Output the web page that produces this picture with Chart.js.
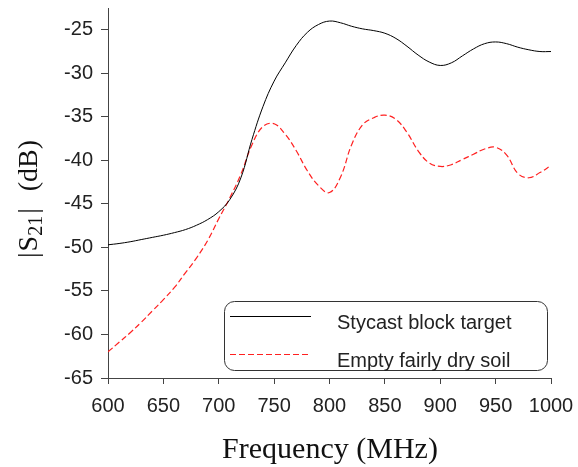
<!DOCTYPE html>
<html>
<head>
<meta charset="utf-8">
<script src="https://cdn.jsdelivr.net/npm/chart.js@4/dist/chart.umd.min.js"></script>
<style>
  html, body { margin: 0; padding: 0; background: #fff; }
  #wrap { width: 578px; height: 467px; position: relative; }
</style>
</head>
<body>
<div id="wrap"><canvas id="chart"></canvas></div>
<script>
const freqs = [600, 610, 620, 630, 640, 650, 660, 670, 680, 690,
  700, 710, 720, 730, 740, 750, 760, 770, 780, 790,
  800, 810, 820, 830, 840, 850, 860, 870, 880, 890,
  900, 910, 920, 930, 940, 950, 960, 970, 980, 990, 1000];

const stycastBlock = [-49.7, -49.55, -49.35, -49.1, -48.85, -48.6, -48.3, -47.95, -47.45, -46.8,
  -45.9, -44.5, -42.0, -37.6, -33.8, -30.9, -28.8, -26.8, -25.3, -24.4,
  -24.0, -24.2, -24.6, -24.9, -25.1, -25.4, -26.0, -26.9, -27.9, -28.7,
  -29.1, -28.8, -28.0, -27.2, -26.6, -26.4, -26.6, -27.0, -27.3, -27.5, -27.5];

const emptySoil = [-62.0, -60.9, -59.8, -58.6, -57.3, -56.0, -54.6, -52.9, -51.2, -49.2,
  -46.7, -44.3, -41.6, -38.2, -36.1, -35.8, -37.0, -38.9, -41.2, -42.9,
  -43.7, -41.9, -38.2, -35.9, -35.1, -34.8, -35.3, -36.8, -38.9, -40.3,
  -40.7, -40.5, -39.9, -39.3, -38.7, -38.5, -39.4, -41.5, -42.0, -41.4, -40.6];

const seriesNames = ['Stycast block target', 'Empty fairly dry soil'];
const xTicks = [600, 650, 700, 750, 800, 850, 900, 950, 1000];
const yTicks = [-65, -60, -55, -50, -45, -40, -35, -30, -25];

const toPoints = ys => freqs.map((f, i) => ({ x: f, y: ys[i] }));

// legend box + axis titles drawn by hand (subscript in |S21|)
const extras = {
  id: 'extras',
  afterDraw(chart) {
    const ctx = chart.ctx;
    const a = chart.chartArea;
    ctx.save();

    // legend
    const bx = a.right - 327, by = a.bottom - 77, bw = 323, bh = 69;
    ctx.strokeStyle = '#333';
    ctx.lineWidth = 1;
    ctx.beginPath();
    ctx.roundRect(bx + 0.5, by + 0.5, bw, bh, 10);
    ctx.stroke();

    ctx.beginPath();
    ctx.strokeStyle = '#000';
    ctx.moveTo(bx + 6, by + 15.5);
    ctx.lineTo(bx + 87, by + 15.5);
    ctx.stroke();

    ctx.beginPath();
    ctx.strokeStyle = '#ff2020';
    ctx.setLineDash([6, 3]);
    ctx.moveTo(bx + 6, by + 53.5);
    ctx.lineTo(bx + 87, by + 53.5);
    ctx.stroke();
    ctx.setLineDash([]);

    ctx.fillStyle = '#222';
    ctx.font = '20px "Liberation Sans", Arial, sans-serif';
    ctx.textBaseline = 'alphabetic';
    ctx.textAlign = 'left';
    ctx.fillText(seriesNames[0], bx + 113, by + 28);
    ctx.fillText(seriesNames[1], bx + 113, by + 66);

    // x title
    ctx.fillStyle = '#111';
    ctx.font = '30px "Liberation Serif", "Times New Roman", serif';
    ctx.textAlign = 'center';
    ctx.fillText('Frequency (MHz)', 330, 458);

    // y title, rotated, with subscript; local x = -screen y
    ctx.translate(37, 0);
    ctx.rotate(-Math.PI / 2);
    const big = '28px "Liberation Serif", "Times New Roman", serif';
    const small = '20px "Liberation Serif", "Times New Roman", serif';
    ctx.textAlign = 'left';
    ctx.font = big;
    let x = -258;
    ctx.fillText('|', x, 0);
    x += ctx.measureText('|').width + 1;
    ctx.fillText('S', x, 0);
    x += ctx.measureText('S').width;
    ctx.font = small;
    ctx.fillText('21', x, 5);
    x += ctx.measureText('21').width + 2;
    ctx.font = big;
    ctx.fillText('|', x, 0);
    ctx.textAlign = 'right';
    ctx.fillText('(dB)', -140, 0);

    ctx.restore();
  }
};

const tickFont = { family: '"Liberation Sans", Arial, sans-serif', size: 20 };

new Chart(document.getElementById('chart'), {
  type: 'line',
  data: {
    datasets: [
      {
        label: seriesNames[0],
        data: toPoints(stycastBlock),
        borderColor: '#000',
        borderWidth: 1,
        pointRadius: 0,
        tension: 0.4,
        fill: false
      },
      {
        label: seriesNames[1],
        data: toPoints(emptySoil),
        borderColor: '#ff2020',
        borderWidth: 1.2,
        borderDash: [6, 3],
        pointRadius: 0,
        tension: 0.4,
        fill: false
      }
    ]
  },
  options: {
    responsive: true,
    maintainAspectRatio: false,
    animation: false,
    layout: { padding: { top: 8, right: 27, left: 0, bottom: 0 } },
    plugins: {
      legend: { display: false },
      tooltip: { enabled: false }
    },
    scales: {
      x: {
        type: 'linear',
        min: 600,
        max: 1000,
        afterBuildTicks: s => { s.ticks = xTicks.map(v => ({ value: v })); },
        afterFit: s => { s.height = 89; s.paddingLeft = 0; s.paddingRight = 0; },
        grid: { drawOnChartArea: false, tickLength: 6, color: '#444' },
        border: { color: '#444' },
        ticks: {
          color: '#222',
          font: tickFont,
          padding: 10,
          maxRotation: 0,
          callback: v => String(v)
        }
      },
      y: {
        min: -65,
        max: -22.5,
        afterBuildTicks: s => { s.ticks = yTicks.map(v => ({ value: v })); },
        afterFit: s => { s.width = 108; s.paddingTop = 0; s.paddingBottom = 0; },
        grid: { drawOnChartArea: false, tickLength: 7, color: '#444' },
        border: { color: '#444' },
        ticks: {
          color: '#222',
          font: tickFont,
          padding: 8,
          callback: v => String(v)
        }
      }
    }
  },
  plugins: [extras]
});
</script>
</body>
</html>
